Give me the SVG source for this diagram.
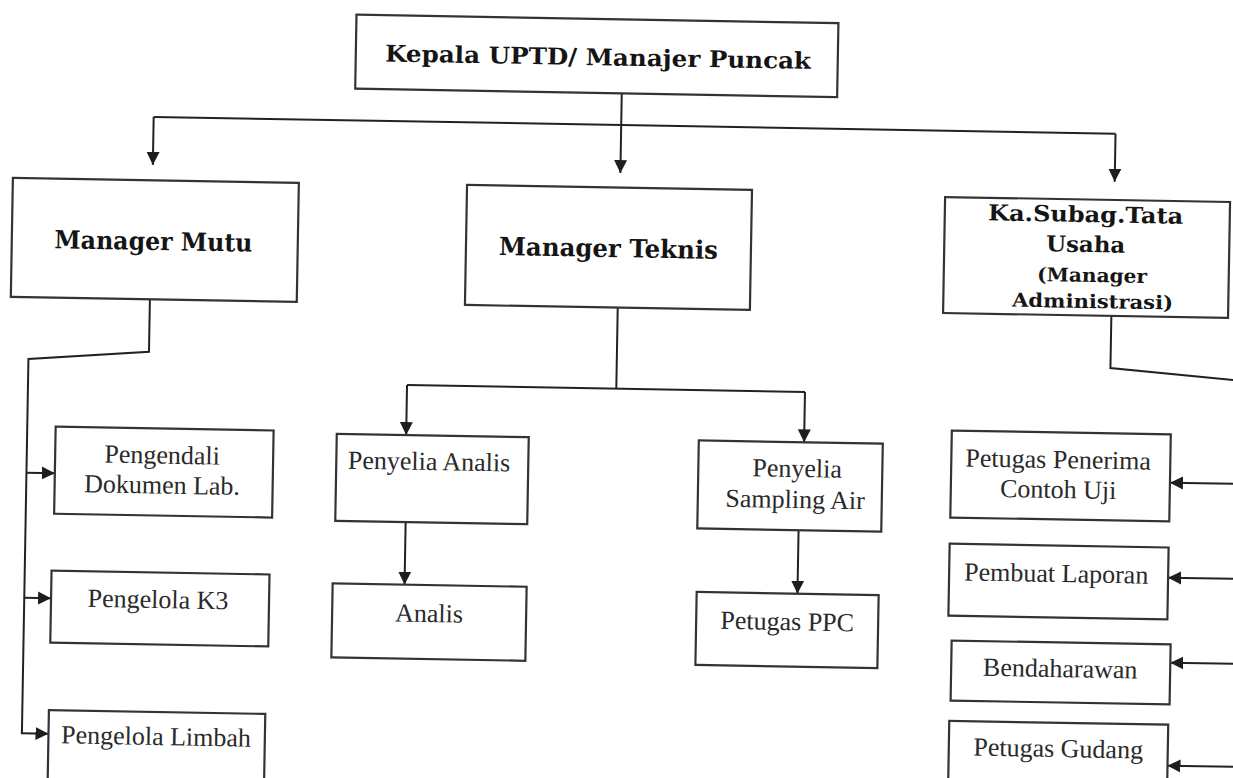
<svg xmlns="http://www.w3.org/2000/svg" width="1233" height="778" viewBox="0 0 1233 778">
  <defs>
    <marker id="ah" viewBox="0 0 10 10" refX="10" refY="5" markerWidth="13" markerHeight="14" orient="auto" markerUnits="userSpaceOnUse">
      <path d="M0,0 L10,5 L0,10 z" fill="#1e1e1e"/>
    </marker>
  </defs>
  <style>
    .box { fill: #ffffff; stroke: #333333; stroke-width: 2.2; }
    .conn { fill: none; stroke: #222222; stroke-width: 2; }
    .arr { fill: none; stroke: #222222; stroke-width: 2; marker-end: url(#ah); }
    .bold { font-family: "DejaVu Serif", "Liberation Serif", serif; font-weight: bold; fill: #151515; text-anchor: middle; }
    .norm { font-family: "Liberation Serif", "Times New Roman", serif; font-size: 26px; fill: #2a2a2a; text-anchor: middle; }
  </style>
  <rect x="0" y="0" width="1233" height="778" fill="#ffffff"/>
  <g transform="rotate(1 616 389)">
    <g id="connectors">
      <path class="arr" d="M616.6,93.3 V173"/>
      <path class="conn" d="M149,125 H1111"/>
      <path class="arr" d="M149,125 V173"/>
      <path class="arr" d="M1111,125 V173"/>
      <path class="conn" d="M148.4,307.6 V360 L28,369.3 V743.7"/>
      <path class="arr" d="M28,483 H56.4"/>
      <path class="arr" d="M28,608 H54.8"/>
      <path class="arr" d="M27,743.7 H54.6"/>
      <path class="conn" d="M616.3,307.6 V388.6"/>
      <path class="conn" d="M407,388.6 H805"/>
      <path class="arr" d="M407,388.6 V438.7"/>
      <path class="arr" d="M805,388.6 V439"/>
      <path class="arr" d="M408,525.7 V588.3"/>
      <path class="arr" d="M801,527 V590.5"/>
      <path class="conn" d="M1110,307.3 V359.4 L1255,371"/>
      <path class="arr" d="M1255,473 H1171.5"/>
      <path class="arr" d="M1255,568 H1171.3"/>
      <path class="arr" d="M1255,653 H1175"/>
      <path class="arr" d="M1255,756 H1174"/>
    </g>
    <g id="kepala">
      <rect class="box" x="350" y="19.3" width="482" height="74"/>
      <text class="bold" x="592.3" y="65.5" font-size="23" textLength="426" lengthAdjust="spacingAndGlyphs">Kepala UPTD/ Manajer Puncak</text>
    </g>
    <g id="manager-mutu">
      <rect class="box" x="9.3" y="188.5" width="286" height="119"/>
      <text class="bold" x="151" y="258" font-size="25" textLength="198" lengthAdjust="spacingAndGlyphs">Manager Mutu</text>
    </g>
    <g id="manager-teknis">
      <rect class="box" x="463.5" y="187.6" width="285" height="120"/>
      <text class="bold" x="606" y="257.1" font-size="25" textLength="219" lengthAdjust="spacingAndGlyphs">Manager Teknis</text>
    </g>
    <g id="ka-subag">
      <rect class="box" x="941.7" y="191.3" width="285" height="116"/>
      <text class="bold" x="1082.6" y="213.8" font-size="22" textLength="195" lengthAdjust="spacingAndGlyphs">Ka.Subag.Tata</text>
      <text class="bold" x="1083.1" y="243.8" font-size="22" textLength="79" lengthAdjust="spacingAndGlyphs">Usaha</text>
      <text class="bold" x="1090" y="273.7" font-size="19" textLength="110" lengthAdjust="spacingAndGlyphs">(Manager</text>
      <text class="bold" x="1091" y="299.7" font-size="19" textLength="161" lengthAdjust="spacingAndGlyphs">Administrasi)</text>
    </g>
    <g id="pengendali">
      <rect class="box" x="56.4" y="436.5" width="218" height="87"/>
      <text class="norm" x="163.3" y="471.5" font-size="25">Pengendali</text>
      <text class="norm" x="163.8" y="501.5" font-size="25">Dokumen Lab.</text>
    </g>
    <g id="pengelola-k3">
      <rect class="box" x="54.8" y="580.5" width="218" height="72"/>
      <text class="norm" x="161.8" y="616">Pengelola K3</text>
    </g>
    <g id="pengelola-limbah">
      <rect class="box" x="54.6" y="720" width="216.4" height="90"/>
      <text class="norm" x="162.2" y="753">Pengelola Limbah</text>
    </g>
    <g id="penyelia-analis">
      <rect class="box" x="337.6" y="438.7" width="192" height="87"/>
      <text class="norm" x="430.4" y="473.3">Penyelia Analis</text>
    </g>
    <g id="analis">
      <rect class="box" x="336.1" y="588.3" width="194" height="74"/>
      <text class="norm" x="433" y="625.3">Analis</text>
    </g>
    <g id="penyelia-sampling">
      <rect class="box" x="699.7" y="439" width="184" height="88"/>
      <text class="norm" x="798.5" y="473.8">Penyelia</text>
      <text class="norm" x="797" y="504.9">Sampling Air</text>
    </g>
    <g id="petugas-ppc">
      <rect class="box" x="700.2" y="590.5" width="182" height="73"/>
      <text class="norm" x="791.3" y="627">Petugas PPC</text>
    </g>
    <g id="petugas-penerima">
      <rect class="box" x="952.5" y="424.7" width="219" height="87"/>
      <text class="norm" x="1059.4" y="460.3">Petugas Penerima</text>
      <text class="norm" x="1059.9" y="490.3">Contoh Uji</text>
    </g>
    <g id="pembuat-laporan">
      <rect class="box" x="952.3" y="537.8" width="219" height="72"/>
      <text class="norm" x="1059.4" y="574.3">Pembuat Laporan</text>
    </g>
    <g id="bendaharawan">
      <rect class="box" x="956" y="634.7" width="219" height="60"/>
      <text class="norm" x="1065" y="669.3">Bendaharawan</text>
    </g>
    <g id="petugas-gudang">
      <rect class="box" x="955" y="715" width="219" height="95"/>
      <text class="norm" x="1064.4" y="749.3">Petugas Gudang</text>
    </g>
  </g>
</svg>
